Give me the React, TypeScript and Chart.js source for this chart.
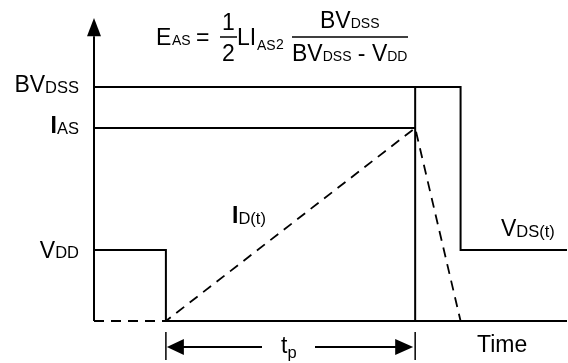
import React, { useEffect, useRef } from "react";
import { Chart, registerables } from "chart.js";

Chart.register(...registerables);

// Time marks (arbitrary time units, axis origin at 0)
const T_ON = 15.2; // switch turns on
const T_P = 67.9; // end of tp (switch turns off)
const T_FALL = 77.5; // end of avalanche
const T_MAX = 100;

// Levels (arbitrary units, baseline at 0)
const V_DD = 23.4;
const I_AS = 63.7;
const BV_DSS = 77.2;
const Y_ARROW_BASE = 94;
const Y_MAX = 100;

// Waveforms
const vdsX = [0, T_ON, T_ON, T_P, T_P, T_FALL, T_FALL, T_MAX];
const vdsY = [V_DD, V_DD, 0, 0, BV_DSS, BV_DSS, V_DD, V_DD];
const idX = [0, T_ON, T_P, T_FALL];
const idY = [0, 0, I_AS, 0];
const baseX = [T_P, T_MAX];
const baseY = [0, 0];
const bvRefX = [0, T_P];
const bvRefY = [BV_DSS, BV_DSS];
const iasRefX = [0, T_P];
const iasRefY = [I_AS, I_AS];
const axisX = [0, 0];
const axisY = [0, Y_ARROW_BASE];

const FONT = "'Liberation Sans', Arial, sans-serif";
const MAIN = 23;
const SUB = 16.5;
const FSUB = 14;

type Part = { t: string; size: number; bold?: boolean; dy?: number };

function drawRuns(
  ctx: CanvasRenderingContext2D,
  parts: Part[],
  x: number,
  baseline: number,
  align: "left" | "right" | "center" = "left"
) {
  ctx.textAlign = "left";
  ctx.textBaseline = "alphabetic";
  const widths = parts.map((p) => {
    ctx.font = `${p.bold ? "bold " : ""}${p.size}px ${FONT}`;
    return ctx.measureText(p.t).width;
  });
  const total = widths.reduce((a, b) => a + b, 0);
  let cx = align === "right" ? x - total : align === "center" ? x - total / 2 : x;
  parts.forEach((p, i) => {
    ctx.font = `${p.bold ? "bold " : ""}${p.size}px ${FONT}`;
    ctx.fillText(p.t, cx, baseline + (p.dy || 0));
    cx += widths[i];
  });
  return total;
}

const toPts = (xs: number[], ys: number[]) => xs.map((x, i) => ({ x, y: ys[i] }));

const overlay = {
  id: "overlay",
  afterDatasetsDraw(chart: any) {
    const ctx: CanvasRenderingContext2D = chart.ctx;
    const xs = chart.scales.x;
    const ys = chart.scales.y;
    const px = (v: number) => xs.getPixelForValue(v);
    const py = (v: number) => ys.getPixelForValue(v);
    ctx.save();
    ctx.fillStyle = "#000";
    ctx.strokeStyle = "#000";

    // y axis arrowhead
    const ax = px(0);
    ctx.beginPath();
    ctx.moveTo(ax, py(Y_MAX));
    ctx.lineTo(ax - 7, py(Y_ARROW_BASE));
    ctx.lineTo(ax + 7, py(Y_ARROW_BASE));
    ctx.closePath();
    ctx.fill();

    // tp dimension
    const x1 = px(T_ON);
    const x2 = px(T_P);
    const dimY = 347;
    ctx.lineWidth = 1.5;
    ctx.beginPath();
    ctx.moveTo(x1, 332);
    ctx.lineTo(x1, 360);
    ctx.moveTo(x2, 332);
    ctx.lineTo(x2, 360);
    ctx.stroke();
    ctx.lineWidth = 2;
    ctx.beginPath();
    ctx.moveTo(x1 + 17, dimY);
    ctx.lineTo(262, dimY);
    ctx.moveTo(315, dimY);
    ctx.lineTo(x2 - 19, dimY);
    ctx.stroke();
    ctx.beginPath();
    ctx.moveTo(x1 + 1, dimY);
    ctx.lineTo(x1 + 18, dimY - 8);
    ctx.lineTo(x1 + 18, dimY + 8);
    ctx.closePath();
    ctx.fill();
    ctx.beginPath();
    ctx.moveTo(x2 - 2, dimY);
    ctx.lineTo(x2 - 20, dimY - 8);
    ctx.lineTo(x2 - 20, dimY + 8);
    ctx.closePath();
    ctx.fill();
    drawRuns(ctx, [{ t: "t", size: MAIN }, { t: "p", size: SUB, dy: 5 }], 281, 353);

    // level labels
    const labRight = ax - 15;
    drawRuns(ctx, [{ t: "BV", size: MAIN }, { t: "DSS", size: SUB, dy: 1 }], labRight, py(BV_DSS) + 5, "right");
    drawRuns(ctx, [{ t: "I", size: MAIN, bold: true }, { t: "AS", size: SUB, dy: 1 }], labRight, py(I_AS) + 5, "right");
    drawRuns(ctx, [{ t: "V", size: MAIN }, { t: "DD", size: SUB }], labRight, py(V_DD) + 8, "right");

    // waveform labels
    drawRuns(ctx, [{ t: "I", size: MAIN, bold: true }, { t: "D(t)", size: SUB, dy: 1 }], 232, 223);
    drawRuns(ctx, [{ t: "V", size: MAIN }, { t: "DS(t)", size: SUB, dy: 1 }], 501, 236);
    drawRuns(ctx, [{ t: "Time", size: MAIN }], 477, 352);

    // formula
    drawRuns(ctx, [{ t: "E", size: MAIN }], 156, 45);
    drawRuns(ctx, [{ t: "AS", size: FSUB }], 172, 45);
    drawRuns(ctx, [{ t: "=", size: MAIN }], 196, 45);
    drawRuns(ctx, [{ t: "1", size: MAIN }], 228.5, 30, "center");
    drawRuns(ctx, [{ t: "2", size: MAIN }], 228.5, 61, "center");
    ctx.lineWidth = 1.5;
    ctx.beginPath();
    ctx.moveTo(220, 37);
    ctx.lineTo(237, 37);
    ctx.moveTo(292, 37);
    ctx.lineTo(408, 37);
    ctx.stroke();
    drawRuns(ctx, [{ t: "LI", size: MAIN }], 237, 45);
    drawRuns(ctx, [{ t: "AS", size: FSUB }], 257, 50);
    drawRuns(ctx, [{ t: "2", size: FSUB }], 276, 49);
    drawRuns(ctx, [{ t: "BV", size: MAIN }, { t: "DSS", size: FSUB }], 320, 28);
    drawRuns(
      ctx,
      [
        { t: "BV", size: MAIN },
        { t: "DSS", size: FSUB },
        { t: " - V", size: MAIN },
        { t: "DD", size: FSUB },
      ],
      292,
      61
    );
    ctx.restore();
  },
};

export default function App() {
  const ref = useRef<HTMLCanvasElement | null>(null);
  useEffect(() => {
    if (!ref.current) return;
    const common = {
      borderColor: "#000",
      borderWidth: 2,
      pointRadius: 0,
      tension: 0,
      fill: false,
      clip: false as any,
      borderCapStyle: "butt" as const,
      borderJoinStyle: "miter" as const,
    };
    const chart = new Chart(ref.current, {
      type: "line",
      data: {
        datasets: [
          { ...common, label: "axis", data: toPts(axisX, axisY) },
          { ...common, label: "BVDSS ref", data: toPts(bvRefX, bvRefY) },
          { ...common, label: "IAS ref", data: toPts(iasRefX, iasRefY) },
          { ...common, label: "baseline", data: toPts(baseX, baseY) },
          { ...common, label: "VDS(t)", data: toPts(vdsX, vdsY) },
          { ...common, label: "ID(t)", data: toPts(idX, idY), borderDash: [10, 7], borderWidth: 1.8 },
        ],
      },
      options: {
        animation: false,
        responsive: false,
        devicePixelRatio: 1,
        layout: { padding: { left: 94, right: 1, top: 18, bottom: 42 } },
        scales: {
          x: { type: "linear", min: 0, max: T_MAX, display: false },
          y: { type: "linear", min: 0, max: Y_MAX, display: false },
        },
        plugins: { legend: { display: false }, tooltip: { enabled: false } },
        events: [],
      },
      plugins: [overlay],
    });
    return () => chart.destroy();
  }, []);
  return (
    <div style={{ position: "fixed", left: 0, top: 0, width: 568, height: 363, background: "#fff" }}>
      <canvas ref={ref} width={568} height={363} style={{ display: "block" }} />
    </div>
  );
}
